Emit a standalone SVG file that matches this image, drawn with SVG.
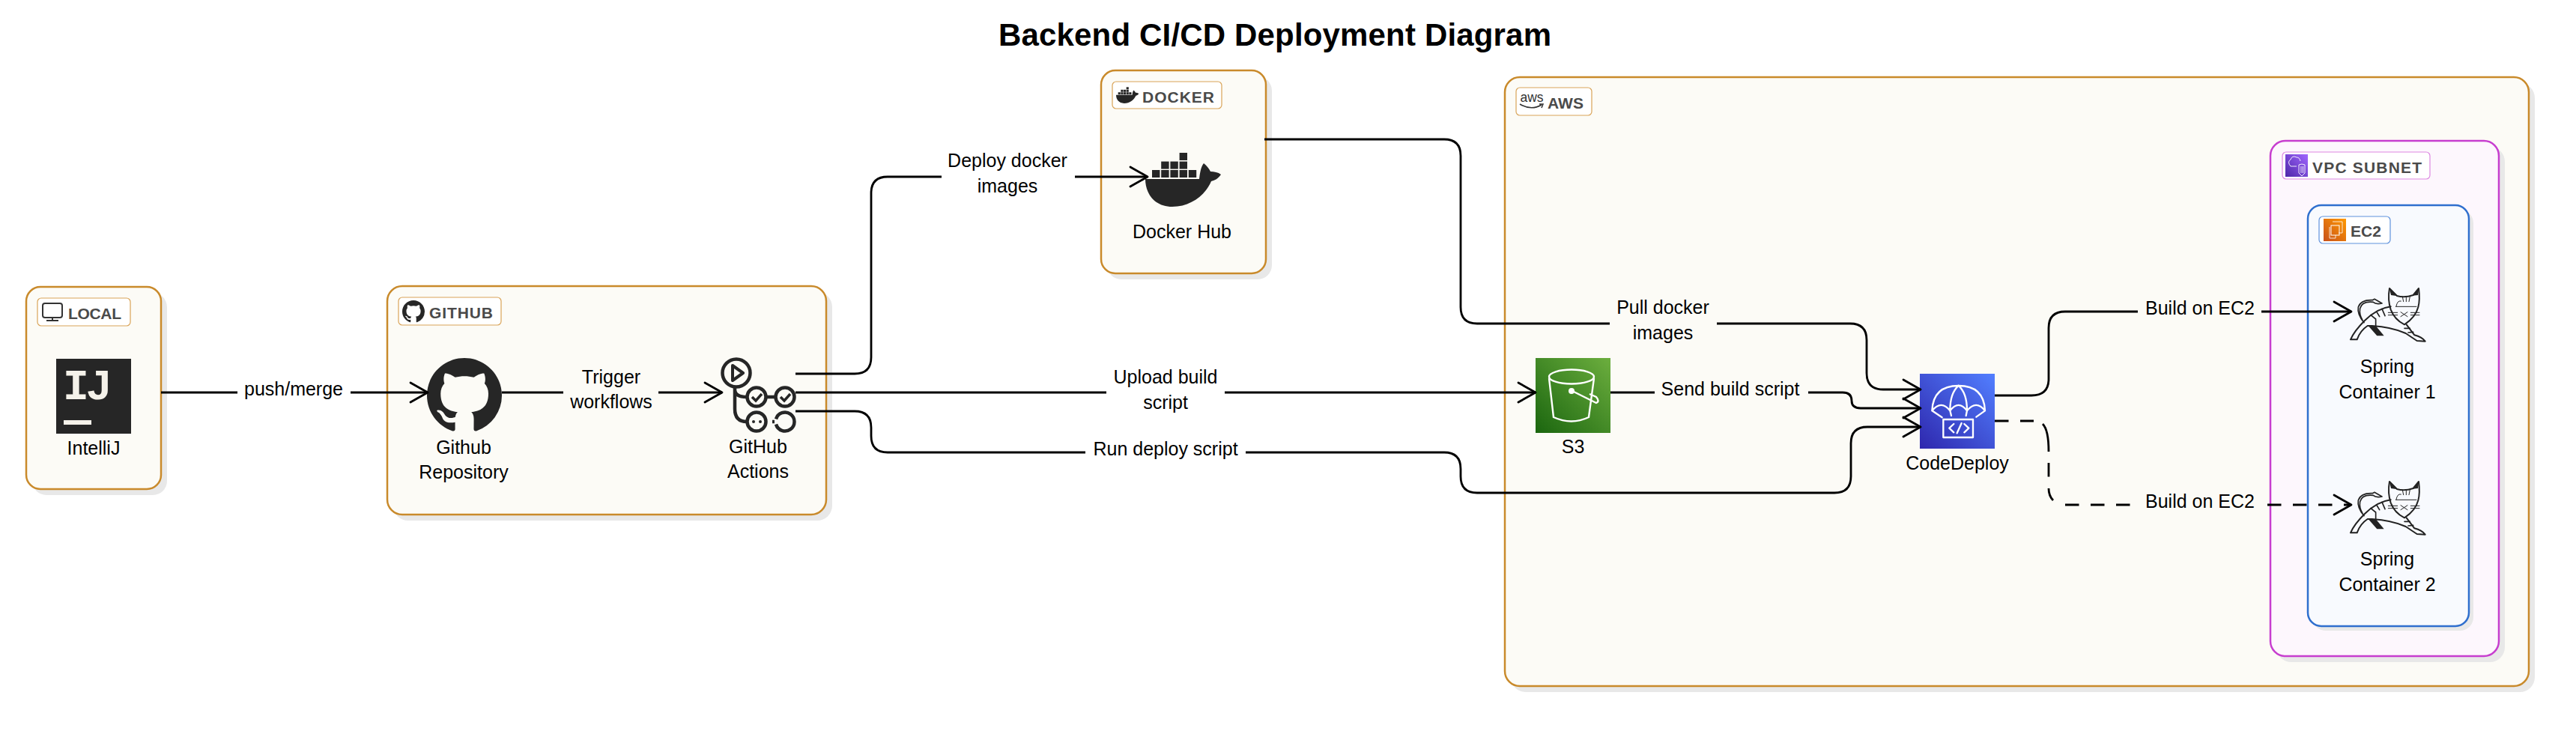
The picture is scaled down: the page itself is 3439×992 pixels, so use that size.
<svg xmlns="http://www.w3.org/2000/svg" xmlns:xlink="http://www.w3.org/1999/xlink" width="3439" height="992" viewBox="0 0 3439 992">
<style>
text{font-family:"Liberation Sans",Arial,sans-serif;fill:#000}
.t{font-size:25px;text-anchor:middle}
.lb{font-size:21px;font-weight:bold;fill:#4a4a4a}
.shadow{fill:#e8e8e8}
.box{fill:#fcfbf6;stroke:#c98a2b;stroke-width:2.5}
.tag{fill:#fff;stroke:#d9a458;stroke-width:1.2}
.conn{fill:none;stroke:#000;stroke-width:2.8;stroke-linejoin:round}
.ic{fill:#262626}
.wl{fill:none;stroke:#fff;stroke-width:7;stroke-linecap:round;stroke-linejoin:round}
.tc{fill:none;stroke:#222;stroke-width:6;stroke-linejoin:round;stroke-linecap:round}
.tcf{fill:#222}
.ga{fill:none;stroke:#262626;stroke-width:4.5}
</style>
<defs>
<marker id="arrow" markerUnits="userSpaceOnUse" markerWidth="30" markerHeight="32" refX="25" refY="15" orient="auto"><path d="M2,2 L25,15 L2,28" fill="none" stroke="#000" stroke-width="2.8" stroke-linejoin="round" stroke-linecap="round"/></marker>
<linearGradient id="gS3" x1="0" y1="1" x2="1" y2="0"><stop offset="0" stop-color="#1B660F"/><stop offset="1" stop-color="#6CAE3E"/></linearGradient>
<linearGradient id="gCD" x1="0" y1="1" x2="1" y2="0"><stop offset="0" stop-color="#2E27AD"/><stop offset="1" stop-color="#527FFF"/></linearGradient>
<linearGradient id="gVPC" x1="0" y1="1" x2="1" y2="0"><stop offset="0" stop-color="#4D27A8"/><stop offset="1" stop-color="#A166FF"/></linearGradient>
<linearGradient id="gEC2" x1="0" y1="1" x2="1" y2="0"><stop offset="0" stop-color="#C8511B"/><stop offset="1" stop-color="#FF9900"/></linearGradient>
<path id="octo" class="ic" d="M8 0C3.58 0 0 3.58 0 8c0 3.54 2.29 6.53 5.47 7.59.4.07.55-.17.55-.38 0-.19-.01-.82-.01-1.49-2.01.37-2.53-.49-2.69-.94-.09-.23-.48-.94-.82-1.13-.28-.15-.68-.52-.01-.53.63-.01 1.08.58 1.23.82.72 1.21 1.87.87 2.33.66.07-.52.28-.87.51-1.07-1.78-.2-3.64-.89-3.64-3.95 0-.87.31-1.59.82-2.15-.08-.2-.36-1.02.08-2.12 0 0 .67-.21 2.2.82.64-.18 1.32-.27 2-.27.68 0 1.36.09 2 .27 1.53-1.04 2.2-.82 2.2-.82.44 1.1.16 1.92.08 2.12.51.56.82 1.27.82 2.15 0 3.07-1.87 3.75-3.65 3.95.29.25.54.73.54 1.48 0 1.07-.01 1.93-.01 2.2 0 .21.15.46.55.38A8.013 8.013 0 0016 8c0-4.42-3.58-8-8-8z"/>
<g id="whale" class="ic">
<path d="M0,36 H72 C73,28 74,20 78,15 C82,18 85,22 87,26 C92,26 97,27 101,30 C97,36 92,38 88,39 C80,58 60,73 36,73 C12,73 0,55 0,36Z"/>
<rect x="9" y="24" width="10.4" height="10"/><rect x="21.2" y="24" width="10.4" height="10"/><rect x="33.4" y="24" width="10.4" height="10"/><rect x="45.6" y="24" width="10.4" height="10"/><rect x="57.8" y="24" width="10.4" height="10"/>
<rect x="21.2" y="12.6" width="10.4" height="10"/><rect x="33.4" y="12.6" width="10.4" height="10"/><rect x="45.6" y="12.6" width="10.4" height="10"/>
<rect x="45.6" y="1" width="10.4" height="10"/>
</g>
<g id="tomcat">
<path class="tc" d="M180,45 L210,75 Q240,84 275,72 L297,45 Q303,90 295,120 Q285,160 240,190 Q200,170 185,130 Q172,90 180,45Z"/>
<path class="tcf" d="M180,45 L212,76 L186,72Z M297,45 L272,74 L294,72Z"/>
<path class="tc" style="stroke-width:3" d="M232,78 L236,98 M247,78 V98 M262,78 L258,98 M205,118 H288 M207,116 Q212,92 226,96 M175,142 H212 M175,152 H212 M265,142 H300 M265,152 H300 M225,158 L252,140 M225,140 L252,158"/>
<path class="tc" d="M185,118 Q130,125 80,175 Q40,215 24,250 L50,250 Q62,215 92,195 L110,195 Q190,200 245,225 L290,255 L323,257 Q310,240 280,232 L248,190"/>
<path class="tc" style="stroke-width:5" d="M78,182 Q50,150 55,120 Q65,90 112,92 L120,88 L150,105 Q125,110 115,100 Q70,95 62,125 Q58,150 72,172"/>
<path class="tcf" d="M95,195 L130,235 H158 L125,195Z"/>
<path class="tc" style="stroke-width:5" d="M105,152 L125,168 M128,138 L140,158 M150,127 L162,155 M125,170 V198 M240,205 L262,205 M255,222 L275,220"/>
</g>
</defs>
<rect width="3439" height="992" fill="#fff"/>
<text id="title" x="1702" y="61" text-anchor="middle" font-size="42" font-weight="bold" textLength="738" lengthAdjust="spacing">Backend CI/CD Deployment Diagram</text>

<g id="local">
<rect class="shadow" x="43" y="391" width="180" height="270" rx="19"/>
<rect class="box" x="35" y="383" width="180" height="270" rx="19"/>
<rect class="tag" x="50" y="398" width="124" height="37" rx="5"/>
<g fill="none" stroke="#333" stroke-width="2"><rect x="57" y="405" width="26" height="19" rx="3"/><path d="M70,424 V428 M62,428 H78"/></g>
<text class="lb" x="91" y="425.500" textLength="71">LOCAL</text>
<rect x="75" y="479" width="100" height="100" fill="#262626"/>
<text x="101.5" y="533" font-size="58" font-weight="bold" text-anchor="middle" style="font-family:'Liberation Mono',monospace;fill:#f5f2ea">I</text>
<text x="132" y="533" font-size="56" font-weight="bold" text-anchor="middle" style="fill:#f5f2ea">J</text>
<rect x="85" y="561" width="37" height="6" fill="#f5f2ea"/>
<text class="t" x="125" y="607">IntelliJ</text>
</g>

<g id="github">
<rect class="shadow" x="525" y="390" width="586" height="305" rx="20"/>
<rect class="box" x="517" y="382" width="586" height="305" rx="20"/>
<rect class="tag" x="532" y="397" width="137" height="37" rx="5"/>
<use href="#octo" transform="translate(537,401) scale(1.875)"/>
<text class="lb" x="573" y="425" textLength="85">GITHUB</text>
<use href="#octo" transform="translate(570,478) scale(6.25)"/>
<text class="t" x="619" y="606">Github</text>
<text class="t" x="619" y="639">Repository</text>
<g id="gh-actions">
<circle class="ga" cx="983" cy="498" r="18.5"/>
<path d="M978,488 L992,498 L978,508Z" fill="none" stroke="#262626" stroke-width="4" stroke-linejoin="round"/>
<path class="ga" d="M981,517 V546 Q981,563 997,563 M981,520 Q981,530 997,530 M1023,530 H1035"/>
<circle class="ga" cx="1010" cy="530" r="12.5"/><circle class="ga" cx="1048" cy="530" r="12.5"/>
<circle class="ga" cx="1010" cy="563" r="12.5"/>
<path class="ga" d="M1036,559.500 A12.5,12.5 0 1 1 1036,566.500 M1034,563 H1031"/>
<path d="M1004,530 L1009,535 L1017,526 M1042,530 L1047,535 L1055,526" fill="none" stroke="#262626" stroke-width="3.5"/>
<circle cx="1006" cy="563" r="2" fill="#262626"/><circle cx="1015" cy="563" r="2" fill="#262626"/>
<text class="t" x="1012" y="605">GitHub</text>
<text class="t" x="1012" y="638">Actions</text>
</g>
</g>

<g id="docker">
<rect class="shadow" x="1478" y="102" width="220" height="271" rx="19"/>
<rect class="box" x="1470" y="94" width="220" height="271" rx="19"/>
<rect class="tag" x="1485" y="109" width="146" height="36" rx="5"/>
<use href="#whale" transform="translate(1490,116) scale(.3)"/>
<text class="lb" x="1525" y="136.500" textLength="96">DOCKER</text>
<use href="#whale" transform="translate(1529,203)"/>
<text class="t" x="1578" y="318">Docker Hub</text>
</g>

<g id="aws">
<rect class="shadow" x="2017" y="111" width="1367" height="813" rx="20"/>
<rect class="box" x="2009" y="103" width="1367" height="813" rx="20"/>
<rect class="tag" x="2024" y="117" width="101" height="37" rx="5"/>
<text x="2029.500" y="136" font-size="18" textLength="31" lengthAdjust="spacingAndGlyphs" style="fill:#333">aws</text>
<path d="M2029,139 Q2044,148 2058,140 M2055,139 L2060,139 L2058,144" fill="none" stroke="#333" stroke-width="1.5"/>
<text class="lb" x="2066" y="144.500" textLength="48">AWS</text>
<g id="s3">
<rect x="2050" y="478" width="100" height="100" fill="url(#gS3)"/>
<g fill="none" stroke="#fff" stroke-width="2.4">
<ellipse cx="2098" cy="503" rx="30" ry="9.5"/>
<path d="M2068,505 L2074,557 Q2098,568 2121,557 L2128,505"/>
<circle cx="2098" cy="522" r="2.8" fill="#fff"/>
<path d="M2099,522 L2131,538 Q2136,536 2131,530 L2122,526"/>
</g>
<text class="t" x="2100" y="605">S3</text>
</g>
<g id="codedeploy">
<rect x="2563" y="499" width="100" height="100" fill="url(#gCD)"/>
<g transform="translate(2540,480) scale(.3333)" class="wl">
<path d="M118,205 Q122,105 224,105 Q326,105 330,205 Q295,160 258,205 Q224,160 190,205 Q155,160 118,205Z M224,105 Q190,135 190,205 M224,105 Q258,135 258,205 M118,205 L158,232 M190,205 L195,225 M258,205 L254,225 M330,205 L295,230"/>
<rect x="163" y="240" width="119" height="72"/>
<path d="M205,258 L187,275 L205,292 M247,258 L265,275 L247,292 M236,255 L218,295"/>
</g>
<text class="t" x="2613" y="627">CodeDeploy</text>
</g>
<g id="vpc">
<rect class="shadow" x="3039" y="196" width="305" height="688" rx="20"/>
<rect x="3031" y="188" width="305" height="688" rx="20" fill="#fdf7fd" stroke="#c73ecf" stroke-width="2.5"/>
<rect x="3047" y="203" width="197" height="36" rx="5" fill="#fff" stroke="#dd88e2" stroke-width="1.2"/>
<rect x="3051" y="206" width="30" height="30" fill="url(#gVPC)"/>
<path d="M3058,222 Q3053,216 3058,213 Q3060,207 3066,210 Q3070,210 3071,215 M3058,222 H3066" fill="none" stroke="#fff" stroke-width=".9"/>
<path d="M3069,220 Q3073,218 3077,220 V231 L3073,235 L3069,231Z M3072,222 V231 M3074.500,222 V231" fill="none" stroke="#fff" stroke-width=".9"/>
<text class="lb" x="3087" y="230.500" textLength="146">VPC SUBNET</text>
<g id="ec2">
<rect class="shadow" x="3087" y="280" width="215" height="562" rx="18"/>
<rect x="3081" y="274" width="215" height="562" rx="18" fill="#f8fafe" stroke="#2f6fce" stroke-width="2.5"/>
<rect x="3096" y="289" width="95" height="36" rx="5" fill="#fff" stroke="#5f92dc" stroke-width="1.2"/>
<rect x="3102" y="292" width="30" height="30" fill="url(#gEC2)"/>
<path d="M3114,296 H3127 V311 H3122 M3110,303 V318 H3118 V314" fill="none" stroke="#fff" stroke-width=".9" opacity=".9"/>
<rect x="3112" y="301" width="11" height="13" fill="none" stroke="#fff" stroke-width="1"/>
<text class="lb" x="3138" y="315.500" textLength="41">EC2</text>
<g id="spring1">
<use href="#tomcat" transform="translate(3130,370) scale(.3333)"/>
<text class="t" x="3187" y="498">Spring</text>
<text class="t" x="3187" y="532">Container 1</text>
</g>
<g id="spring2">
<use href="#tomcat" transform="translate(3130,628) scale(.3333)"/>
<text class="t" x="3187" y="755">Spring</text>
<text class="t" x="3187" y="789">Container 2</text>
</g>
</g>
</g>
</g>

<g id="connectors">
<path class="conn" marker-end="url(#arrow)" d="M215,524 H317 M468,524 H571"/>
<path class="conn" marker-end="url(#arrow)" d="M670,524 H752 M879,524 H964"/>
<path class="conn" marker-end="url(#arrow)" d="M1062,499 H1141 Q1163,499 1163,477 V258 Q1163,236 1185,236 H1257 M1435,236 H1532"/>
<path class="conn" marker-end="url(#arrow)" d="M1062,524 H1477 M1635,524 H2050"/>
<path class="conn" marker-end="url(#arrow)" d="M1062,549 H1141 Q1163,549 1163,571 V582 Q1163,604 1185,604 H1449 M1663,604 H1928 Q1950,604 1950,626 V636 Q1950,658 1972,658 H2449 Q2471,658 2471,636 V592 Q2471,570 2493,570 H2564"/>
<path class="conn" marker-end="url(#arrow)" d="M1688,186 H1928 Q1950,186 1950,208 V410 Q1950,432 1972,432 H2149 M2292,432 H2470 Q2492,432 2492,454 V498 Q2492,520 2514,520 H2564"/>
<path class="conn" marker-end="url(#arrow)" d="M2150,524 H2209 M2414,524 H2460 Q2472,524 2472,535 Q2472,545 2484,545 H2564"/>
<path class="conn" marker-end="url(#arrow)" d="M2663,528 H2712 Q2735,528 2735,506 V438 Q2735,416 2757,416 H2854 M3019,416 H3139"/>
<path class="conn" d="M2727,566 Q2735,574 2735,603"/>
<path class="conn" marker-end="url(#arrow)" stroke-dasharray="18.5 15.5" d="M2663,562 H2715 M2735,618 V637 M2735,652 Q2735,662 2741,668 M2757,674 H2844 M3027,674 H3139"/>
</g>

<g id="connector-labels">
<text class="t" x="392" y="528">push/merge</text>
<text class="t" x="816" y="512">Trigger</text>
<text class="t" x="816" y="545">workflows</text>
<text class="t" x="1345" y="223">Deploy docker</text>
<text class="t" x="1345" y="257">images</text>
<text class="t" x="1556" y="512">Upload build</text>
<text class="t" x="1556" y="546">script</text>
<text class="t" x="1556" y="608">Run deploy script</text>
<text class="t" x="2220" y="419">Pull docker</text>
<text class="t" x="2220" y="453">images</text>
<text class="t" x="2310" y="528">Send build script</text>
<text class="t" x="2937" y="420">Build on EC2</text>
<text class="t" x="2937" y="678">Build on EC2</text>
</g>
</svg>
